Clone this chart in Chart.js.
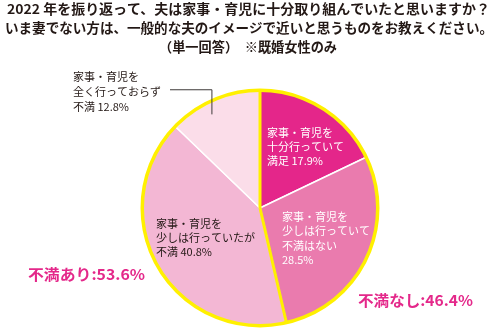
<!DOCTYPE html>
<html lang="ja">
<head>
<meta charset="utf-8">
<script src="https://cdn.jsdelivr.net/npm/chart.js@4/dist/chart.umd.min.js"></script>
<style>
  html, body { margin: 0; padding: 0; background: #ffffff; }
  #wrap { width: 497px; height: 331px; position: relative; }
</style>
</head>
<body>
<div id="wrap"><canvas id="c" width="497" height="331"></canvas></div>
<script>
// ---- data ----
const titleLines = [
  '2022 年を振り返って、夫は家事・育児に十分取り組んでいたと思いますか？',
  'いま妻でない方は、一般的な夫のイメージで近いと思うものをお教えください。',
  '（単一回答）　※既婚女性のみ'
];
const categories = [
  '家事・育児を\n十分行っていて\n満足',
  '家事・育児を\n少しは行っていて\n不満はない',
  '家事・育児を\n少しは行っていたが\n不満',
  '家事・育児を\n全く行っておらず\n不満'
];
const values = [17.9, 28.5, 40.8, 12.8];
const groupNames = ['不満なし', '不満あり'];
const groupValues = [46.4, 53.6];

// ---- styles / layout ----
const sliceColors = ['#E4268A', '#EA7BAE', '#F3B7D4', '#FBDDE9'];
const yellow = '#FFF000';
const textDark = '#231815';
const accent = '#E4288A';
const JP = '"Noto Sans CJK JP", "Noto Sans", sans-serif';

// label placement per slice: left x, first line center y, line gap, colour, value on own line
const sliceLabelLayout = [
  { x: 267, y: 133, gap: 14, color: '#ffffff', newline: false },
  { x: 282, y: 217, gap: 14.2, color: '#ffffff', newline: true },
  { x: 156, y: 224, gap: 14, color: textDark, newline: false },
  { x: 73,  y: 77,  gap: 15, color: textDark, newline: false }
];
const groupLabelLayout = [
  { x: 358, y: 300, w: 115 },
  { x: 28,  y: 274, w: 117 }
];
const titleLayout = [
  { cx: 248.5, y: 9,  w: 483 },
  { cx: 249,   y: 28, w: 488 },
  { cx: 248,   y: 47, w: 0 }
];

function fitText(ctx, text, x, y, w, align) {
  const m = ctx.measureText(text).width;
  const s = w > 0 ? w / m : 1;
  ctx.save();
  ctx.translate(x, y);
  ctx.scale(s, 1);
  ctx.textAlign = 'left';
  ctx.fillText(text, align === 'center' ? -m / 2 : 0, 0);
  ctx.restore();
}

const decor = {
  id: 'decor',
  afterDatasetsDraw(chart) {
    const ctx = chart.ctx;
    const arcs = chart.getDatasetMeta(0).data;
    const a0 = arcs[0];
    const cx = a0.x, cy = a0.y, R = a0.outerRadius;
    ctx.save();
    // yellow separators between the two groups
    ctx.strokeStyle = yellow;
    ctx.lineWidth = 3;
    ctx.lineCap = 'butt';
    [arcs[0].startAngle, arcs[1].endAngle].forEach(ang => {
      ctx.beginPath();
      ctx.moveTo(cx, cy);
      ctx.lineTo(cx + Math.cos(ang) * R, cy + Math.sin(ang) * R);
      ctx.stroke();
    });
    // yellow outer ring
    ctx.beginPath();
    ctx.arc(cx, cy, R - 0.5, 0, Math.PI * 2);
    ctx.lineWidth = 3.5;
    ctx.stroke();

    // leader line for small slice
    const a3 = arcs[3];
    const ang = a3.startAngle + 0.41 * (a3.endAngle - a3.startAngle);
    const px = cx + Math.cos(ang) * R * 0.89;
    const py = cy + Math.sin(ang) * R * 0.89;
    ctx.strokeStyle = '#3E3A39';
    ctx.lineWidth = 1;
    ctx.beginPath();
    ctx.moveTo(px, py);
    ctx.lineTo(px, cy - R);
    ctx.lineTo(170, cy - R);
    ctx.stroke();

    // slice labels
    ctx.textBaseline = 'middle';
    ctx.font = '11px ' + JP;
    categories.forEach((cat, i) => {
      const L = sliceLabelLayout[i];
      const lines = cat.split('\n');
      const v = values[i].toFixed(1) + '%';
      if (L.newline) lines.push(v); else lines[lines.length - 1] += ' ' + v;
      ctx.fillStyle = L.color;
      lines.forEach((ln, k) => {
        ctx.textAlign = 'left';
        ctx.fillText(ln, L.x, L.y + k * L.gap);
      });
    });

    // group labels
    ctx.font = 'bold 15px ' + JP;
    ctx.fillStyle = accent;
    groupNames.forEach((g, i) => {
      const L = groupLabelLayout[i];
      fitText(ctx, g + ':' + groupValues[i].toFixed(1) + '%', L.x, L.y, L.w, 'left');
    });

    // title
    ctx.font = 'bold 13.2px ' + JP;
    ctx.fillStyle = textDark;
    titleLines.forEach((t, i) => {
      const L = titleLayout[i];
      fitText(ctx, t, L.cx, L.y, L.w, 'center');
    });
    ctx.restore();
  }
};

new Chart(document.getElementById('c'), {
  type: 'pie',
  data: {
    labels: categories.map(c => c.replace(/\n/g, '')),
    datasets: [{
      data: values,
      backgroundColor: sliceColors,
      borderColor: '#ffffff',
      borderWidth: 1.5
    }]
  },
  options: {
    responsive: false,
    animation: false,
    devicePixelRatio: 1,
    layout: { padding: { top: 89, left: 141, right: 118, bottom: 4 } },
    plugins: {
      legend: { display: false },
      tooltip: { enabled: false },
      title: { display: false }
    }
  },
  plugins: [decor]
});
</script>
</body>
</html>
